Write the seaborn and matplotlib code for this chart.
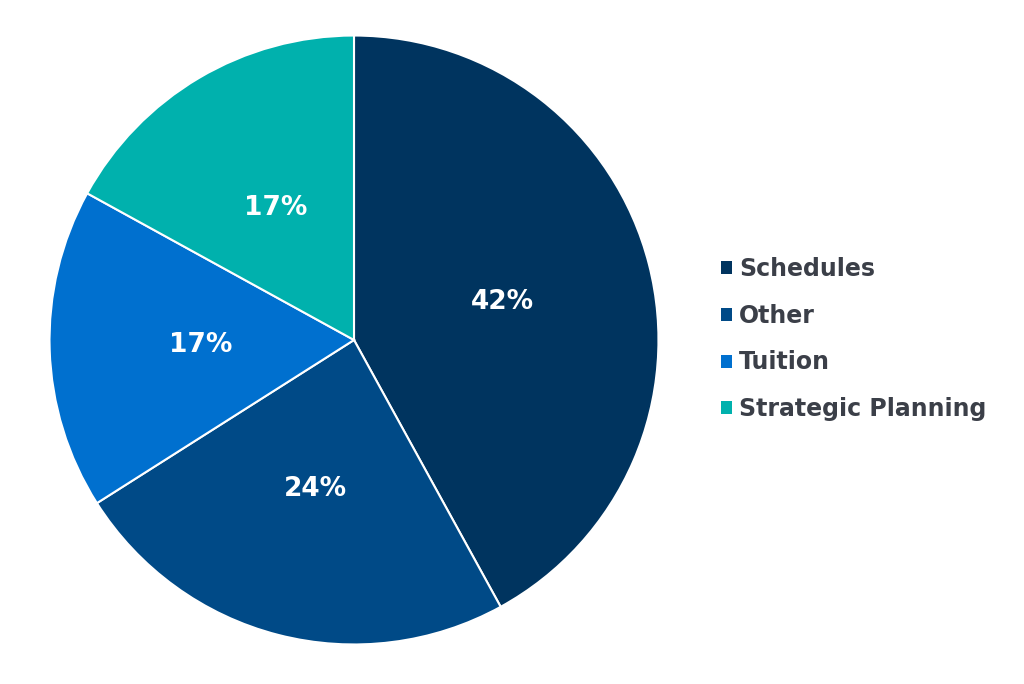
import seaborn as sns
import matplotlib
matplotlib.use("Agg")
import matplotlib.pyplot as plt

# 数据
categories = ["Schedules", "Other", "Tuition", "Strategic Planning"]
shares = [42, 24, 17, 17]
colors = ["#00345f", "#004a87", "#0070cf", "#00b1ad"]

sns.set_style("white")
plt.rcParams['font.family'] = ['DejaVu Sans']

fig = plt.figure(figsize=(10.24, 6.84), dpi=100)
ax = fig.add_axes([48 / 1024, 38 / 684, 612 / 1024, 612 / 684])

wedges, texts, autotexts = ax.pie(
    shares, colors=colors, startangle=90, counterclock=False,
    autopct="%d%%", pctdistance=0.505,
    wedgeprops=dict(edgecolor="white", linewidth=1.5),
    textprops=dict(color="white", fontsize=19, fontweight="bold"),
)
ax.set_xlim(-1.005, 1.005)
ax.set_ylim(-1.005, 1.005)
ax.set_aspect("equal")

leg = fig.legend(
    wedges, categories, loc="center left",
    bbox_to_anchor=(721 / 1024, 1 - 339 / 684),
    frameon=False, borderpad=0, borderaxespad=0,
    handlelength=0.47, handleheight=0.47,
    handletextpad=0.3, labelspacing=0.97,
    prop=dict(size=17, weight="bold"),
)
for t in leg.get_texts():
    t.set_color("#3b3f48")
for h in leg.legend_handles:
    h.set_edgecolor("none")

fig.savefig("out.png", dpi=100)
